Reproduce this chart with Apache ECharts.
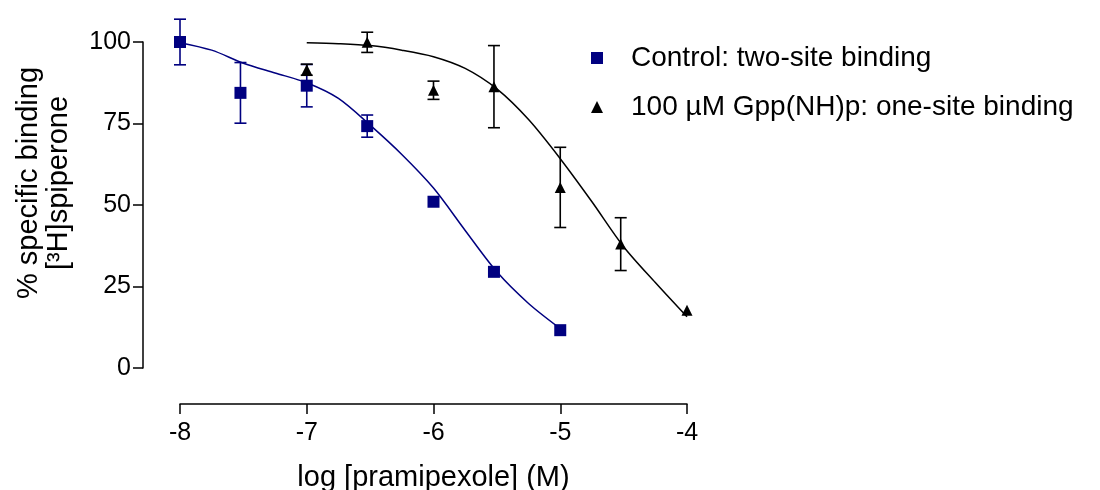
<!DOCTYPE html>
<html>
<head>
<meta charset="utf-8">
<title>pramipexole binding</title>
<script src="https://cdn.jsdelivr.net/npm/echarts@6/dist/echarts.min.js"></script>
<style>
html,body{margin:0;padding:0;background:#fff;}
#chart_main{width:1100px;height:490px;}
</style>
</head>
<body>
<div id="chart_main"></div>
<script type="text/javascript">
// measured points, log [pramipexole] (M)
var ctrlDose = [-8, -7.523, -7, -6.523, -6, -5.523, -5];
var ctrlMean = [100, 84.4, 86.6, 74.2, 51.0, 29.5, 11.6];
var ctrlSem  = [7.0, 9.3, 6.5, 3.4, null, null, null];

var gppDose = [-7, -6.523, -6, -5.523, -5, -4.523, -4];
var gppMean = [91.5, 99.9, 85.2, 86.3, 55.4, 38.0, 17.7];
var gppSem  = [1.7, 3.1, 2.8, 12.6, 12.3, 8.1, null];

// fitted curves
var ctrlFitX = [-8, -7.75, -7.5, -7.25, -7, -6.75, -6.5, -6.25, -6, -5.75, -5.5, -5.25, -5];
var ctrlFitY = [99.8, 97.5, 93.5, 90.5, 87.5, 82.7, 74.5, 65.5, 55.2, 42.2, 29.5, 19.8, 12.1];
var gppFitX  = [-7, -6.75, -6.5, -6.25, -6, -5.75, -5.5, -5.25, -5, -4.75, -4.5, -4.25, -4];
var gppFitY  = [99.8, 99.5, 98.9, 97.5, 95.5, 91.9, 85.6, 76.2, 64.2, 51.0, 37.2, 26.2, 15.7];

var xTicks = [-8, -7, -6, -5, -4];
var yTicks = [0, 25, 50, 75, 100];

var ctrlName = 'Control: two-site binding';
var gppName = '100 \u00b5M Gpp(NH)p: one-site binding';
var navy = '#000080';
var font = 'Liberation Sans, Arial, Helvetica, sans-serif';

function pairs(xs, ys){
	var out = [];
	for(var i=0;i<xs.length;i++){
		out.push([xs[i], ys[i]]);
	}
	return out;
}
function errRows(xs, ys, es){
	var out = [];
	for(var i=0;i<xs.length;i++){
		if(es[i] != null){
			out.push([xs[i], ys[i], es[i]]);
		}
	}
	return out;
}
function errorBars(rows, color){
	return {
		type: 'custom',
		silent: true,
		clip: false,
		z: 3,
		data: rows,
		renderItem: function(params, api){
			var x = api.value(0), y = api.value(1), e = api.value(2);
			var hi = api.coord([x, y + e]);
			var lo = api.coord([x, y - e]);
			var w = 6;
			var st = {stroke: color, lineWidth: 1.6, fill: null};
			return {
				type: 'group',
				children: [
					{type:'line', shape:{x1:hi[0], y1:hi[1], x2:lo[0], y2:lo[1]}, style: st},
					{type:'line', shape:{x1:hi[0]-w, y1:hi[1], x2:hi[0]+w, y2:hi[1]}, style: st},
					{type:'line', shape:{x1:lo[0]-w, y1:lo[1], x2:lo[0]+w, y2:lo[1]}, style: st}
				]
			};
		}
	};
}

var myChart = echarts.init(document.getElementById('chart_main'));
var option = {
	animation: false,
	backgroundColor: '#fff',
	textStyle: {fontFamily: font, color: '#000'},
	grid: {left: 180, right: 413, top: 42, bottom: 122, outerBoundsMode: 'none', containLabel: false},
	legend: {
		data: [ctrlName, gppName],
		orient: 'vertical',
		left: 586,
		top: 39,
		itemWidth: 12,
		itemHeight: 12,
		itemGap: 21,
		selectedMode: false,
		textStyle: {fontFamily: font, fontSize: 28, color: '#000', padding: [0,0,0,23]}
	},
	xAxis: {
		type: 'value',
		min: -8, max: -4, interval: 1,
		offset: 36,
		name: 'log [pramipexole] (M)',
		nameLocation: 'middle',
		nameGap: 59,
		nameTextStyle: {fontFamily: font, fontSize: 29, color: '#000'},
		splitLine: {show: false},
		axisLine: {onZero: false, lineStyle: {color: '#000', width: 1.5}},
		axisTick: {length: 10, lineStyle: {color: '#000', width: 1.5}},
		axisLabel: {
			margin: 17, fontSize: 25, color: '#000', fontFamily: font,
			customValues: xTicks
		}
	},
	yAxis: {
		type: 'value',
		min: 0, max: 100, interval: 25,
		offset: 37,
		splitLine: {show: false},
		axisLine: {show: true, onZero: false, lineStyle: {color: '#000', width: 1.5}},
		axisTick: {show: true, length: 10, lineStyle: {color: '#000', width: 1.5}},
		axisLabel: {
			margin: 12, fontSize: 25, color: '#000', fontFamily: font,
			customValues: yTicks
		}
	},
	graphic: [{
		type: 'text',
		x: 44, y: 183,
		rotation: Math.PI / 2,
		style: {
			text: '% specific binding\n[\u00b3H]spiperone',
			font: '29px ' + font,
			fill: '#000',
			align: 'center',
			verticalAlign: 'middle',
			lineHeight: 30
		}
	}],
	series: [
		{
			type: 'line', smooth: 0.3, showSymbol: false, silent: true, clip: false,
			data: pairs(ctrlFitX, ctrlFitY),
			lineStyle: {color: navy, width: 1.5}, z: 2
		},
		{
			type: 'line', smooth: 0.3, showSymbol: false, silent: true, clip: false,
			data: pairs(gppFitX, gppFitY),
			lineStyle: {color: '#000', width: 1.5}, z: 2
		},
		errorBars(errRows(ctrlDose, ctrlMean, ctrlSem), navy),
		errorBars(errRows(gppDose, gppMean, gppSem), '#000'),
		{
			name: ctrlName, type: 'scatter', symbol: 'rect', symbolSize: 12, clip: false,
			data: pairs(ctrlDose, ctrlMean),
			itemStyle: {color: navy, opacity: 1}, z: 5
		},
		{
			name: gppName, type: 'scatter', symbol: 'triangle', symbolSize: 11, clip: false,
			data: pairs(gppDose, gppMean),
			itemStyle: {color: '#000', opacity: 1}, z: 5
		}
	]
};
myChart.setOption(option);
</script>
</body>
</html>
